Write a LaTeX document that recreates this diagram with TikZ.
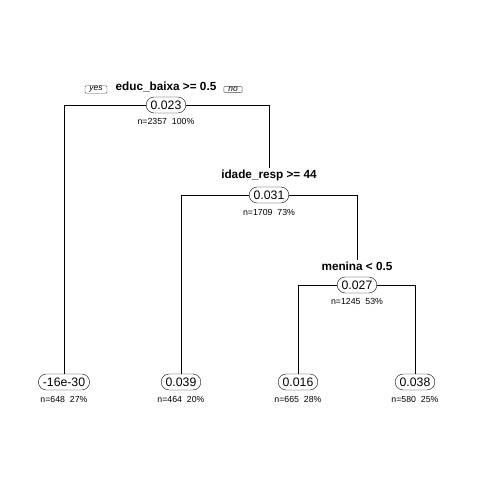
\documentclass[tikz,border=0pt]{standalone}
\usepackage{fontspec}
\setmainfont{Liberation Sans}
\usepackage{tikz}

\begin{document}
\begin{tikzpicture}[x=1bp,y=-1bp,
  split/.style={font=\fontsize{11.8}{13}\selectfont\bfseries, inner sep=1bp},
  fitted/.style={draw, rounded corners=8bp, font=\fontsize{12.3}{14}\selectfont, inner xsep=4.5bp, inner ysep=3bp, minimum height=16bp},
  count/.style={font=\fontsize{8.8}{10}\selectfont, inner sep=0pt},
  side/.style={draw=black!70, font=\fontsize{8.4}{9}\selectfont\itshape, inner xsep=4.5bp, inner ysep=0.6bp, rounded corners=1bp},
  branch/.style={line width=0.7bp}]
\useasboundingbox (0,0) rectangle (480,480);
% root
\node[split] (Split1) at (166,87) {educ\_baixa >= 0.5};
\node[side] (Yes) at (96,89.5) {yes};
\node[side] (No) at (233,89.5) {no};
\node[fitted] (Root) at (166,105) {0.023};
\node[count] (Count1) at (166,121) {n=2357\ \ 100\%};
% second split
\node[split] (Split2) at (269,175) {idade\_resp >= 44};
\node[fitted] (Node2) at (269,195) {0.031};
\node[count] (Count2) at (269,212) {n=1709\ \ 73\%};
% third split
\node[split] (Split3) at (357,266) {menina < 0.5};
\node[fitted] (Node3) at (357,285) {0.027};
\node[count] (Count3) at (357,301) {n=1245\ \ 53\%};
% leaves
\node[fitted] (LeafA) at (64,382) {-16e-30};  \node[count] (CountA) at (64,399) {n=648\ \ 27\%};
\node[fitted] (LeafB) at (181,382) {0.039};   \node[count] (CountB) at (181,399) {n=464\ \ 20\%};
\node[fitted] (LeafC) at (298,382) {0.016};   \node[count] (CountC) at (298,399) {n=665\ \ 28\%};
\node[fitted] (LeafD) at (415,382) {0.038};   \node[count] (CountD) at (415,399) {n=580\ \ 25\%};
% branches
\draw[branch] (Root.west) -| (LeafA.north);
\draw[branch] (Root.east) -| (Split2.north);
\draw[branch] (Node2.west) -| (LeafB.north);
\draw[branch] (Node2.east) -| (Split3.north);
\draw[branch] (Node3.west) -| (LeafC.north);
\draw[branch] (Node3.east) -| (LeafD.north);
\end{tikzpicture}
\end{document}
